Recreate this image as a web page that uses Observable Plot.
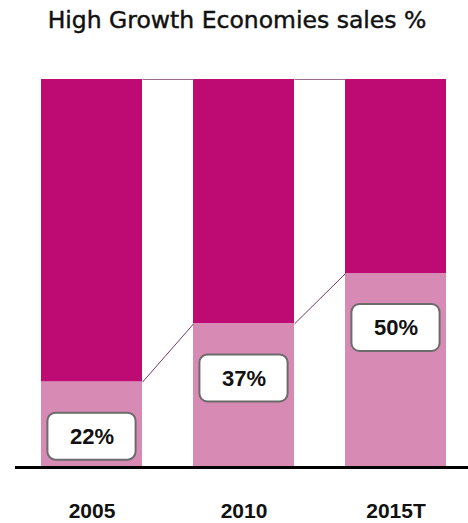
<!DOCTYPE html>
<html>
<head>
<meta charset="utf-8">
<script src="https://cdn.jsdelivr.net/npm/d3@7"></script>
<script src="https://cdn.jsdelivr.net/npm/@observablehq/plot@0.6"></script>
<style>
  html, body { margin: 0; padding: 0; background: #fff; }
  #title { height: 56px; line-height: 40px; text-align: center; font-family: "DejaVu Sans", sans-serif; font-size: 23.5px; -webkit-text-stroke: 0.45px #111; color: #111; padding-left: 6px; box-sizing: border-box; white-space: nowrap; }
  #chart svg { display: block; }
</style>
</head>
<body>
<div id="title">High Growth Economies sales %</div>
<div id="chart"></div>
<script>
const years = ["2005", "2010", "2015T"];
const values = [22, 37, 50];
const total = 100;

const bw = 101 / 152; // bar width in band-step units
const idx = years.map((_, i) => i);
const data = idx.map(i => ({i, year: years[i], v: values[i]}));
const links = idx.slice(0, -1).map(i => ({a: i, b: i + 1, va: values[i], vb: values[i + 1]}));

const chart = Plot.plot({
  width: 468,
  height: 467,
  marginLeft: 15,
  marginRight: 0,
  marginTop: 23,
  marginBottom: 56,
  x: {type: "linear", domain: [-(91.5 - 15) / 152, 2 + (468 - 395.5) / 152], axis: null},
  y: {domain: [0, total], axis: null},
  marks: [
    Plot.rectY(data, {x1: d => d.i - bw / 2, x2: d => d.i + bw / 2, y1: d => d.v, y2: total, fill: "#BD0B73"}),
    Plot.rectY(data, {x1: d => d.i - bw / 2, x2: d => d.i + bw / 2, y1: 0, y2: d => d.v, fill: "#D68AB4"}),
    Plot.link(links, {x1: d => d.a + bw / 2, x2: d => d.b - bw / 2, y1: d => d.va, y2: d => d.vb, stroke: "#7a3563", strokeWidth: 1}),
    Plot.link(links, {x1: d => d.a + bw / 2, x2: d => d.b - bw / 2, y1: total, y2: total, stroke: "#9a6a88", strokeWidth: 1}),
    Plot.ruleY([0], {stroke: "#000", strokeWidth: 3}),
    Plot.rect(data, {x1: d => d.i - 0.29, x2: d => d.i + 0.29, y1: d => d.v - 8, y2: d => d.v - 20.1, fill: "#fff", stroke: "#6b6b6b", strokeWidth: 2, rx: 8}),
    Plot.text(data, {x: "i", y: d => d.v - 14.05, text: d => d.v + "%", fontSize: 22, fontWeight: "bold", fill: "#111", fontFamily: "Liberation Sans, sans-serif"}),
    Plot.axisX(idx, {ticks: idx, tickFormat: i => years[i], label: null, tickSize: 0, tickPadding: 36, fontSize: 21, fontWeight: "bold", fontFamily: "Liberation Sans, sans-serif", color: "#111"})
  ]
});
document.getElementById("chart").appendChild(chart);
</script>
</body>
</html>
